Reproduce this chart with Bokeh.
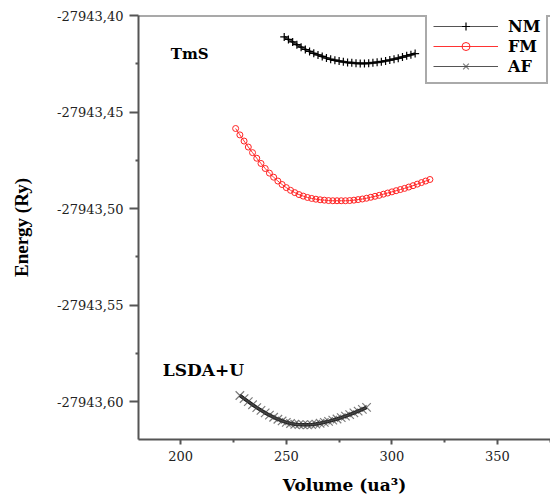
from bokeh.plotting import figure
from bokeh.models import Range1d, FixedTicker, CustomJSTickFormatter, Legend, LegendItem, Label, Span
from bokeh.embed import file_html
from bokeh.resources import INLINE

# ---- data ----
nm_volume = [249, 251, 253, 255, 257, 259, 261, 263, 265, 267, 269, 271, 273, 275, 277,
             279, 281, 283, 285, 287, 289, 291, 293, 295, 297, 299, 301, 303, 305, 307, 309, 311]
nm_energy = [-27943.4111, -27943.4124, -27943.4137, -27943.4151, -27943.4164, -27943.4176,
             -27943.4186, -27943.4196, -27943.4204, -27943.4212, -27943.4220, -27943.4227,
             -27943.4232, -27943.4236, -27943.4240, -27943.4243, -27943.4245, -27943.4247,
             -27943.4248, -27943.4248, -27943.4247, -27943.4245, -27943.4242, -27943.4239,
             -27943.4235, -27943.4231, -27943.4226, -27943.4221, -27943.4215, -27943.4209,
             -27943.4203, -27943.4197]

fm_volume = [226, 228, 230, 232, 234, 236, 238, 240, 242, 244, 246, 248, 250, 252, 254, 256,
             258, 260, 262, 264, 266, 268, 270, 272, 274, 276, 278, 280, 282, 284, 286, 288,
             290, 292, 294, 296, 298, 300, 302, 304, 306, 308, 310, 312, 314, 316, 318]
fm_energy = [-27943.4585, -27943.4618, -27943.4650, -27943.4681, -27943.4710, -27943.4739,
             -27943.4766, -27943.4792, -27943.4816, -27943.4837, -27943.4857, -27943.4875,
             -27943.4891, -27943.4905, -27943.4917, -27943.4927, -27943.4935, -27943.4942,
             -27943.4947, -27943.4951, -27943.4954, -27943.4956, -27943.4958, -27943.4959,
             -27943.4959, -27943.4959, -27943.4959, -27943.4958, -27943.4956, -27943.4953,
             -27943.4950, -27943.4946, -27943.4941, -27943.4936, -27943.4931, -27943.4925,
             -27943.4919, -27943.4913, -27943.4907, -27943.4901, -27943.4895, -27943.4888,
             -27943.4881, -27943.4873, -27943.4865, -27943.4857, -27943.4849]

af_volume = [228, 230, 232, 234, 236, 238, 240, 242, 244, 246, 248, 250, 252, 254, 256, 258,
             260, 262, 264, 266, 268, 270, 272, 274, 276, 278, 280, 282, 284, 286, 288]
af_energy = [-27943.5967, -27943.5983, -27943.5999, -27943.6015, -27943.6030, -27943.6044,
             -27943.6057, -27943.6069, -27943.6080, -27943.6090, -27943.6099, -27943.6106,
             -27943.6112, -27943.6116, -27943.6118, -27943.6119, -27943.6119, -27943.6118,
             -27943.6115, -27943.6111, -27943.6106, -27943.6101, -27943.6095, -27943.6089,
             -27943.6082, -27943.6074, -27943.6066, -27943.6057, -27943.6048, -27943.6039,
             -27943.6029]

x_major_ticks = [200, 250, 300, 350]
x_minor_ticks = [225, 275, 325, 375]
y_major_ticks = [-27943.60, -27943.55, -27943.50, -27943.45, -27943.40]
y_minor_ticks = [-27943.575, -27943.525, -27943.475, -27943.425]

series_names = ["NM", "FM", "AF"]
annotations = ["TmS", "LSDA+U"]

# ---- figure ----
p = figure(width=550, height=497,
           x_range=Range1d(180, 375.1), y_range=Range1d(-27943.6195, -27943.40),
           output_backend="svg", toolbar_location=None,
           min_border_left=138, min_border_right=0, min_border_top=15, min_border_bottom=54)
p.outline_line_color = None
p.xgrid.visible = False
p.ygrid.visible = False
p.background_fill_color = "white"
p.border_fill_color = "white"

axis_col = "#555555"
tick_font = "DejaVu Serif"

# x axis
xa = p.xaxis[0]
xa.ticker = FixedTicker(ticks=x_major_ticks, minor_ticks=x_minor_ticks)
xa.axis_line_color = axis_col
xa.axis_line_width = 2
xa.major_tick_line_color = axis_col
xa.minor_tick_line_color = axis_col
xa.major_tick_line_width = 2
xa.minor_tick_line_width = 2
xa.major_tick_in = 0
xa.major_tick_out = 5
xa.minor_tick_in = 0
xa.minor_tick_out = 3
xa.major_label_text_font = tick_font
xa.major_label_text_font_size = "13px"
xa.major_label_text_color = "#222222"
xa.major_label_standoff = 6
xa.axis_label = "Volume (ua\u00b3)"
xa.axis_label_text_font = "DejaVu Serif"
xa.axis_label_text_font_style = "bold"
xa.axis_label_text_font_size = "17px"
xa.axis_label_text_color = "black"
xa.axis_label_standoff = 11

# y axis
ya = p.yaxis[0]
ya.ticker = FixedTicker(ticks=y_major_ticks, minor_ticks=y_minor_ticks)
ya.formatter = CustomJSTickFormatter(code="return tick.toFixed(2).replace('.', ',');")
ya.axis_line_color = axis_col
ya.axis_line_width = 2
ya.major_tick_line_color = axis_col
ya.minor_tick_line_color = axis_col
ya.major_tick_line_width = 2
ya.minor_tick_line_width = 2
ya.major_tick_in = 0
ya.major_tick_out = 9
ya.minor_tick_in = 0
ya.minor_tick_out = 3
ya.major_label_text_font = tick_font
ya.major_label_text_font_size = "13px"
ya.major_label_text_color = "#222222"
ya.major_label_standoff = 6
ya.axis_label = "Energy (Ry)"
ya.axis_label_text_font = "Liberation Serif"
ya.axis_label_text_font_style = "bold"
ya.axis_label_text_font_size = "19px"
ya.axis_label_text_color = "black"
ya.axis_label_standoff = 22

# top frame line
p.add_layout(Span(location=-27943.40, dimension="width", line_color=axis_col, line_width=2))

# ---- series ----
# thick bands (overlapping markers look in the original), not in legend
p.line(nm_volume, nm_energy, line_color="#222222", line_width=2.5)
p.line(af_volume, af_energy, line_color="#111111", line_width=3.5)

nm_line = p.line(nm_volume, nm_energy, line_color="#555555", line_width=1)
nm_pts = p.scatter(nm_volume, nm_energy, marker="cross", size=8, line_color="black", line_width=1.2)

fm_line = p.line(fm_volume, fm_energy, line_color="#ff3333", line_width=1)
fm_pts = p.scatter(fm_volume, fm_energy, marker="circle", size=6, fill_color=None,
                   line_color="#ff2222", line_width=1)

af_line = p.line(af_volume, af_energy, line_color="#555555", line_width=1)
af_pts = p.scatter(af_volume, af_energy, marker="x", size=12, line_color="#444444",
                   line_width=1.2, line_alpha=0.7)

legend = Legend(items=[LegendItem(label=series_names[0], renderers=[nm_line, nm_pts]),
                       LegendItem(label=series_names[1], renderers=[fm_line, fm_pts]),
                       LegendItem(label=series_names[2], renderers=[af_line, af_pts])],
                location=(287, 355))
legend.border_line_color = axis_col
legend.border_line_width = 2
legend.background_fill_alpha = 1
legend.label_text_font = "DejaVu Serif"
legend.label_text_font_style = "bold"
legend.label_text_font_size = "16px"
legend.label_text_color = "black"
legend.glyph_width = 65
legend.glyph_height = 20
legend.label_height = 20
legend.label_standoff = 10
legend.spacing = 0
legend.padding = 6
legend.margin = 0
p.add_layout(legend)

# ---- annotations ----
p.add_layout(Label(x=195.3, y=-27943.420, text=annotations[0], text_font="DejaVu Serif",
                   text_font_style="bold", text_font_size="15px", text_baseline="middle",
                   text_color="black"))
p.add_layout(Label(x=191.5, y=-27943.5836, text=annotations[1], text_font="DejaVu Serif",
                   text_font_style="bold", text_font_size="17px", text_baseline="middle",
                   text_color="black"))

open("out.html", "w").write(file_html(p, INLINE))
